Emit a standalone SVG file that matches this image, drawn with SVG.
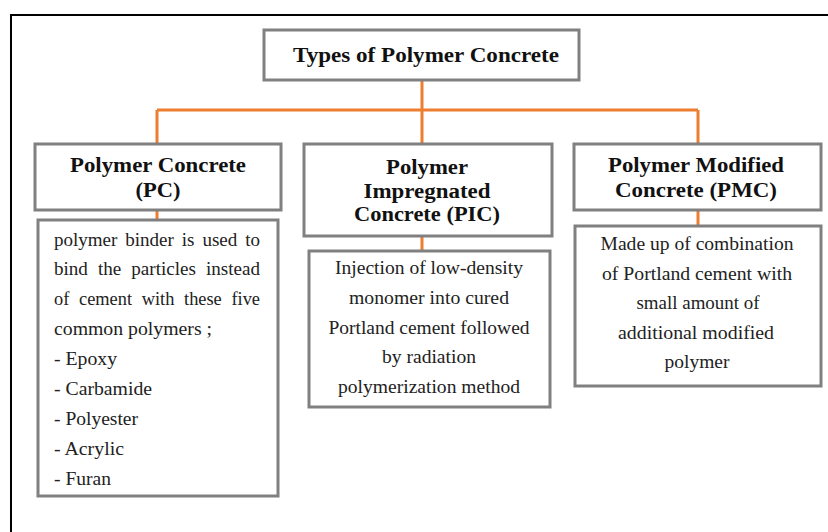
<svg xmlns="http://www.w3.org/2000/svg" width="828" height="532" viewBox="0 0 828 532">
<style>
.box{fill:#fff;stroke:#808080;stroke-width:3}
.hd{font-family:"Liberation Serif","Times New Roman",serif;font-weight:bold;font-size:20px;fill:#111;text-anchor:middle}
.ti{font-family:"Liberation Serif","Times New Roman",serif;font-weight:bold;font-size:22px;fill:#111;text-anchor:middle}
.bd{font-family:"Liberation Serif","Times New Roman",serif;font-size:18px;fill:#222;text-anchor:middle}
.bl{font-family:"Liberation Serif","Times New Roman",serif;font-size:18px;fill:#222}
.con{fill:none;stroke:#ED7D31;stroke-width:3}
</style>
<rect x="0" y="0" width="828" height="532" fill="#fff"/>
<rect x="11" y="15" width="830" height="530" fill="none" stroke="#000" stroke-width="2"/>
<g id="connectors">
<path class="con" d="M422,81 V110 M157,110 H698 M157,110 V143 M422,110 V143 M698,110 V143 M157,210 V219 M422,237 V250 M698,210 V225"/>
</g>
<g id="title">
<rect class="box" x="264" y="30" width="315" height="50"/>
<text class="ti" x="426" y="62" textLength="266" lengthAdjust="spacingAndGlyphs">Types of Polymer Concrete</text>
</g>
<g id="pc">
<rect class="box" x="35" y="144" width="246" height="66"/>
<text class="hd" x="158" y="172" textLength="176" lengthAdjust="spacingAndGlyphs">Polymer Concrete</text>
<text class="hd" x="158" y="197" textLength="45" lengthAdjust="spacingAndGlyphs">(PC)</text>
</g>
<g id="pc-desc">
<rect class="box" x="38" y="220" width="240" height="276"/>
<text class="bl" x="54" y="246" textLength="206" lengthAdjust="spacingAndGlyphs" word-spacing="3">polymer binder is used to</text>
<text class="bl" x="54" y="275" textLength="206" lengthAdjust="spacingAndGlyphs" word-spacing="5">bind the particles instead</text>
<text class="bl" x="54" y="305" textLength="206" lengthAdjust="spacingAndGlyphs" word-spacing="5">of cement with these five</text>
<text class="bl" x="54" y="335" textLength="158" lengthAdjust="spacingAndGlyphs">common polymers ;</text>
<text class="bl" x="54" y="365" textLength="63" lengthAdjust="spacingAndGlyphs">- Epoxy</text>
<text class="bl" x="54" y="395" textLength="98" lengthAdjust="spacingAndGlyphs">- Carbamide</text>
<text class="bl" x="54" y="425" textLength="84" lengthAdjust="spacingAndGlyphs">- Polyester</text>
<text class="bl" x="54" y="455" textLength="70" lengthAdjust="spacingAndGlyphs">- Acrylic</text>
<text class="bl" x="54" y="485" textLength="57" lengthAdjust="spacingAndGlyphs">- Furan</text>
</g>
<g id="pic">
<rect class="box" x="304" y="144" width="248" height="92"/>
<text class="hd" x="427" y="174" textLength="82" lengthAdjust="spacingAndGlyphs">Polymer</text>
<text class="hd" x="427" y="198" textLength="127" lengthAdjust="spacingAndGlyphs">Impregnated</text>
<text class="hd" x="427" y="221" textLength="146" lengthAdjust="spacingAndGlyphs">Concrete (PIC)</text>
</g>
<g id="pic-desc">
<rect class="box" x="309" y="251" width="241" height="156"/>
<text class="bd" x="429" y="274" textLength="188" lengthAdjust="spacingAndGlyphs">Injection of low-density</text>
<text class="bd" x="429" y="304" textLength="160" lengthAdjust="spacingAndGlyphs">monomer into cured</text>
<text class="bd" x="429" y="334" textLength="201" lengthAdjust="spacingAndGlyphs">Portland cement followed</text>
<text class="bd" x="429" y="363" textLength="94" lengthAdjust="spacingAndGlyphs">by radiation</text>
<text class="bd" x="429" y="393" textLength="182" lengthAdjust="spacingAndGlyphs">polymerization method</text>
</g>
<g id="pmc">
<rect class="box" x="574" y="144" width="247" height="66"/>
<text class="hd" x="696" y="172" textLength="176" lengthAdjust="spacingAndGlyphs">Polymer Modified</text>
<text class="hd" x="696" y="197" textLength="162" lengthAdjust="spacingAndGlyphs">Concrete (PMC)</text>
</g>
<g id="pmc-desc">
<rect class="box" x="575" y="226" width="246" height="160"/>
<text class="bd" x="697" y="250" textLength="193" lengthAdjust="spacingAndGlyphs">Made up of combination</text>
<text class="bd" x="697" y="280" textLength="190" lengthAdjust="spacingAndGlyphs">of Portland cement with</text>
<text class="bd" x="698" y="309" textLength="123" lengthAdjust="spacingAndGlyphs">small amount of</text>
<text class="bd" x="696" y="339" textLength="156" lengthAdjust="spacingAndGlyphs">additional modified</text>
<text class="bd" x="697" y="368" textLength="65" lengthAdjust="spacingAndGlyphs">polymer</text>
</g>
</svg>
